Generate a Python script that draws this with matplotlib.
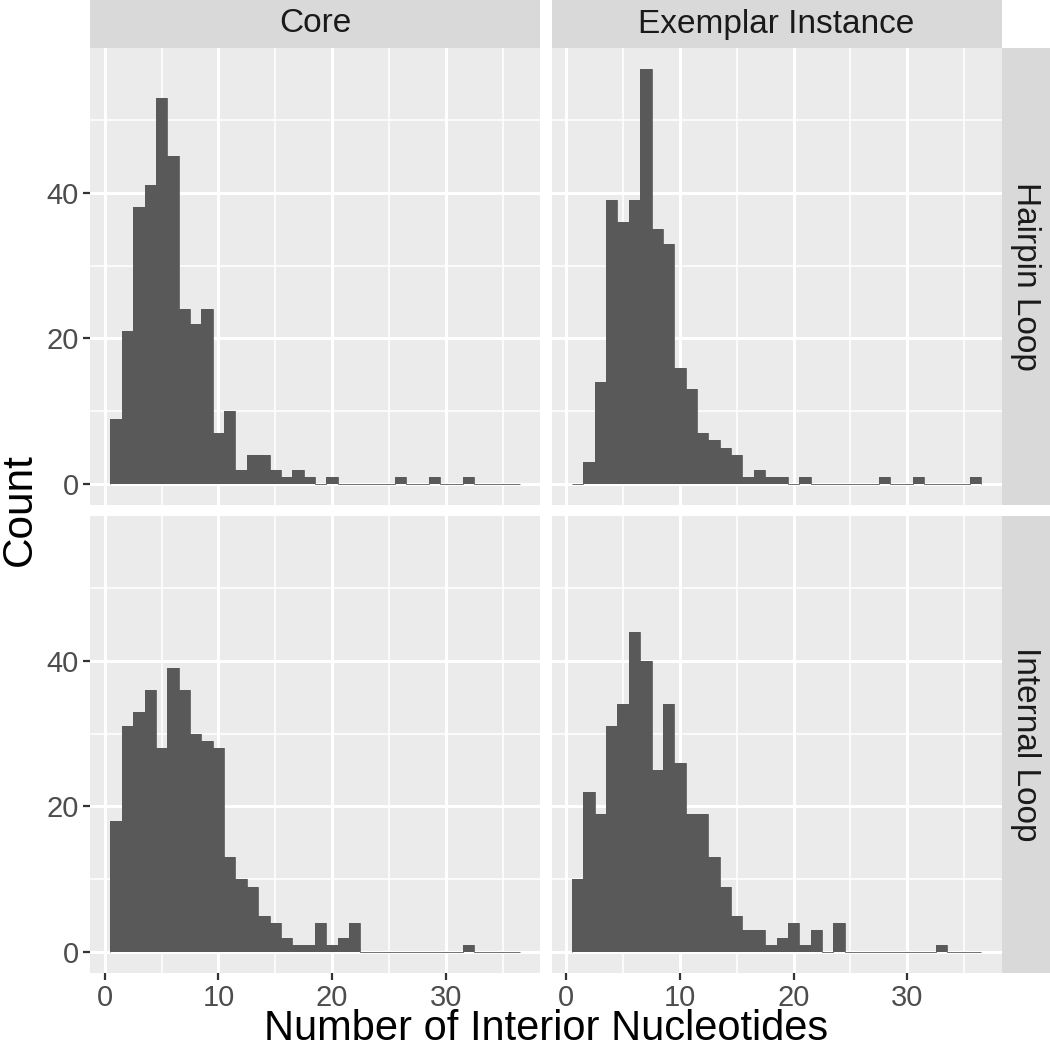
import numpy as np
import matplotlib
matplotlib.use("Agg")
import matplotlib.pyplot as plt

plt.rcParams['font.family'] = ['Liberation Sans', 'DejaVu Sans']

# Histogram counts per bin (bins of width 1 centred on 1..36)
bins = np.arange(1, 37)

core_hairpin = [9, 21, 38, 41, 53, 45, 24, 22, 24, 7, 10, 2, 4, 4, 2, 1, 2, 1,
                0, 1, 0, 0, 0, 0, 0, 1, 0, 0, 1, 0, 0, 1, 0, 0, 0, 0]
exemplar_hairpin = [0, 3, 14, 39, 36, 39, 57, 35, 33, 16, 13, 7, 6, 5, 4, 1, 2, 1,
                    1, 0, 1, 0, 0, 0, 0, 0, 0, 1, 0, 0, 1, 0, 0, 0, 0, 1]
core_internal = [18, 31, 33, 36, 28, 39, 36, 30, 29, 28, 13, 10, 9, 5, 4, 2, 1, 1,
                 4, 1, 2, 4, 0, 0, 0, 0, 0, 0, 0, 0, 0, 1, 0, 0, 0, 0]
exemplar_internal = [10, 22, 19, 31, 34, 44, 40, 25, 34, 26, 19, 19, 13, 9, 5, 3, 3, 1,
                     2, 4, 1, 3, 0, 4, 0, 0, 0, 0, 0, 0, 0, 0, 1, 0, 0, 0]

col_labels = ['Core', 'Exemplar Instance']
row_labels = ['Hairpin Loop', 'Internal Loop']
panels = [[core_hairpin, exemplar_hairpin], [core_internal, exemplar_internal]]

x_ticks = [0, 10, 20, 30]
y_ticks = [0, 20, 40]

W, H = 1050, 1049
fig = plt.figure(figsize=(W / 100, H / 100), dpi=100)

col_x = [(90, 540), (551.5, 1001.5)]
row_y = [(48, 505), (516, 973)]

edges = np.append(bins - 0.5, bins[-1] + 0.5)


def rect(x0, x1, y0, y1):
    return [x0 / W, 1 - y1 / H, (x1 - x0) / W, (y1 - y0) / H]


def strip_axes(r):
    sax = fig.add_axes(r)
    sax.set_facecolor('#D9D9D9')
    sax.set_xticks([])
    sax.set_yticks([])
    for s in sax.spines.values():
        s.set_visible(False)
    return sax


for r in range(2):
    for c in range(2):
        ax = fig.add_axes(rect(*col_x[c], *row_y[r]))
        ax.set_facecolor('#EBEBEB')
        ax.stairs(panels[r][c], edges, fill=True, color='#595959',
                  linewidth=0, zorder=3)
        ax.stairs(panels[r][c], edges, fill=False, color='#595959',
                  linewidth=0.6, zorder=3, baseline=0)
        ax.set_xlim(-1.3, 38.3)
        ax.set_ylim(-2.85, 59.85)
        ax.set_xticks(x_ticks)
        ax.set_xticks([5, 15, 25, 35], minor=True)
        ax.set_yticks(y_ticks)
        ax.set_yticks([10, 30, 50], minor=True)
        ax.grid(True, which='major', color='white', linewidth=2.2, zorder=1)
        ax.grid(True, which='minor', color='white', linewidth=1.1, zorder=1)
        ax.set_axisbelow(True)
        for s in ax.spines.values():
            s.set_visible(False)
        ax.tick_params(which='minor', length=0)
        ax.tick_params(which='major', length=5, width=1.6, color='#333333',
                       labelsize=21, labelcolor='#4D4D4D', pad=3)
        if c != 0:
            ax.tick_params(axis='y', length=0, labelleft=False)
        if r != 1:
            ax.tick_params(axis='x', length=0, labelbottom=False)

# column strips
for c in range(2):
    sax = strip_axes(rect(col_x[c][0], col_x[c][1], 0, 48))
    sax.text(0.5, 0.5, col_labels[c], ha='center', va='center',
             fontsize=24, color='#1A1A1A', transform=sax.transAxes)

# row strips
for r in range(2):
    sax = strip_axes(rect(1002, 1050, row_y[r][0], row_y[r][1]))
    sax.text(0.5, 0.5, row_labels[r], ha='center', va='center', rotation=-90,
             fontsize=24, color='#1A1A1A', transform=sax.transAxes)

fig.text(546 / W, 1 - 1040 / H, 'Number of Interior Nucleotides',
         ha='center', va='baseline', fontsize=30, color='black')
fig.text(20 / W, 1 - 510 / H, 'Count', ha='center', va='center',
         rotation=90, fontsize=30.5, color='black')

fig.savefig('out.png', dpi=100)
